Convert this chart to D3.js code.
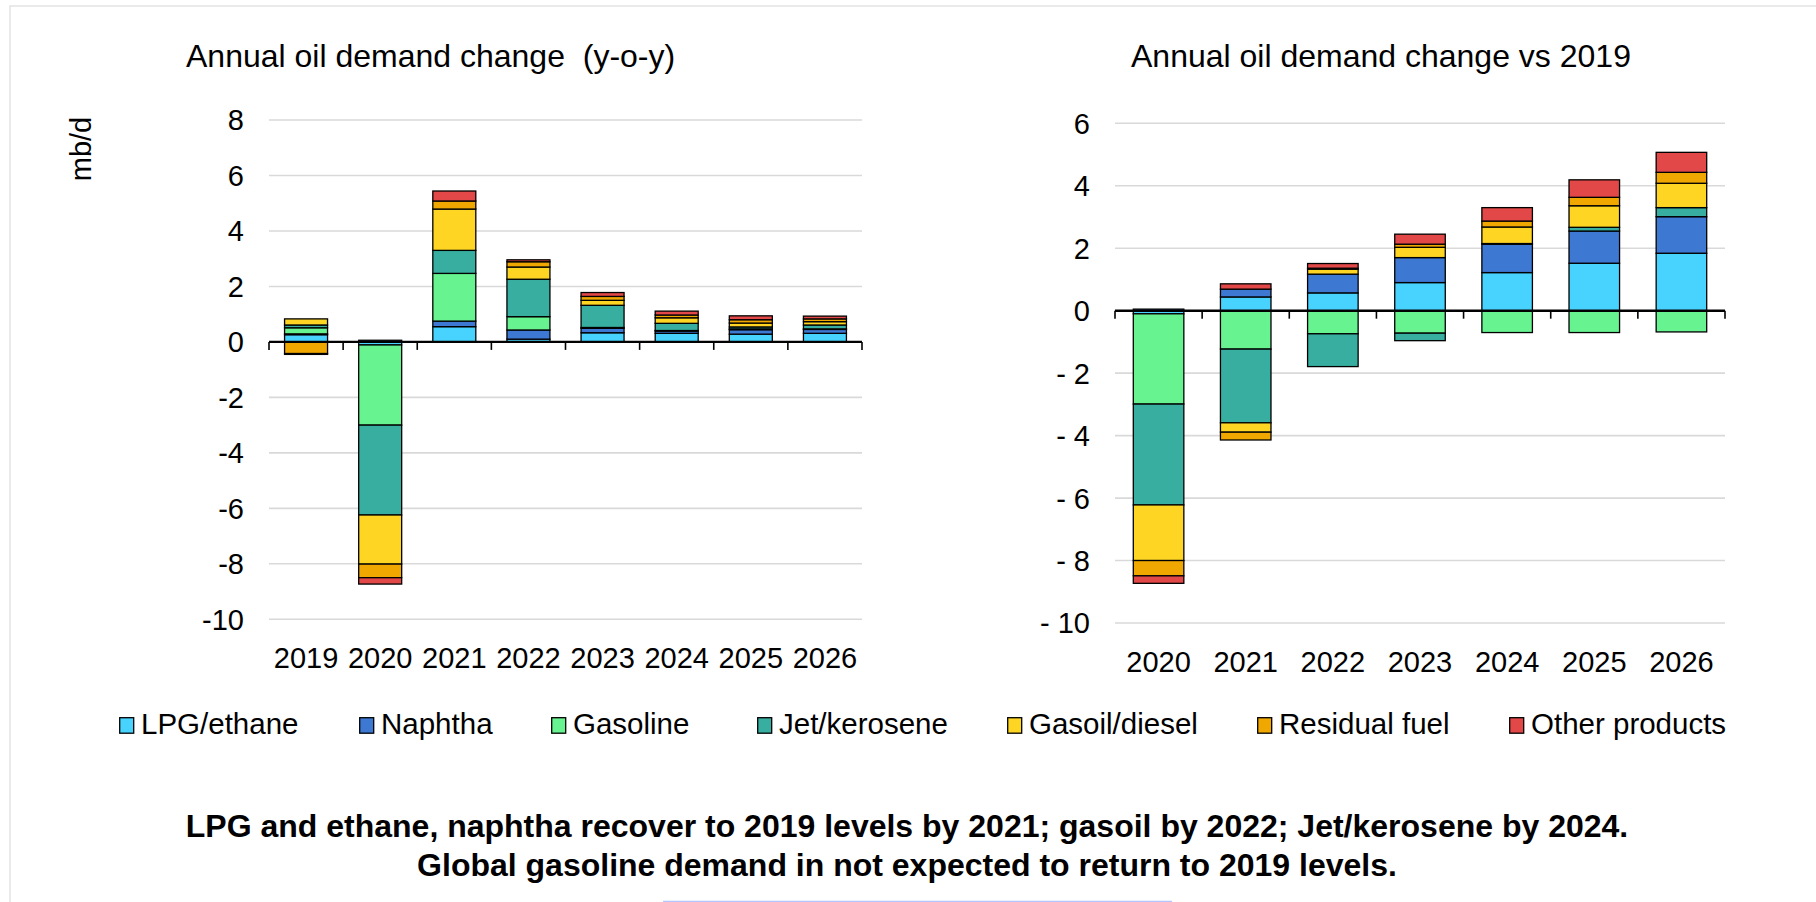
<!DOCTYPE html>
<html>
<head>
<meta charset="utf-8">
<script src="https://cdn.jsdelivr.net/npm/d3@7"></script>
<style>
  html, body { margin: 0; padding: 0; background: #fff; }
  svg { display: block; font-family: "Liberation Sans", Arial, sans-serif; }
</style>
</head>
<body>
<svg id="chart" width="1816" height="902"></svg>
<script>
// product groups, stacked bottom to top
var products = ["LPG/ethane", "Naphtha", "Gasoline", "Jet/kerosene", "Gasoil/diesel", "Residual fuel", "Other products"];
var productColors = ["#48d3ff", "#3d78d3", "#68f391", "#37ae9f", "#fed523", "#f0a800", "#e24848"];

// left panel: y-o-y change, mb/d
var yoyYears = ["2019", "2020", "2021", "2022", "2023", "2024", "2025", "2026"];
var yoyLpg      = [0.26, -0.11, 0.55, 0.10, 0.33, 0.31, 0.28, 0.31];
var yoyNaphtha  = [0.03,  0.06, 0.20, 0.33, 0.16, 0.08, 0.16, 0.14];
var yoyGasoline = [0.22, -2.89, 1.72, 0.48, 0.03, 0.02, 0.03, 0.02];
var yoyJet      = [0.10, -3.24, 0.83, 1.35, 0.80, 0.26, 0.07, 0.14];
var yoyGasoil   = [0.22, -1.77, 1.49, 0.44, 0.18, 0.20, 0.14, 0.12];
var yoyResidual = [-0.42, -0.49, 0.29, 0.19, 0.14, 0.10, 0.12, 0.10];
var yoyOther    = [-0.03, -0.23, 0.36, 0.07, 0.14, 0.14, 0.14, 0.10];
var yoyTicks = [8, 6, 4, 2, 0, -2, -4, -6, -8, -10];

// right panel: change vs 2019, mb/d
var vsYears = ["2020", "2021", "2022", "2023", "2024", "2025", "2026"];
var vsLpg      = [-0.10, 0.44, 0.57, 0.90, 1.22, 1.52, 1.84];
var vsNaphtha  = [0.05, 0.25, 0.60, 0.80, 0.91, 1.03, 1.17];
var vsGasoline = [-2.89, -1.23, -0.74, -0.72, -0.70, -0.70, -0.68];
var vsJet      = [-3.23, -2.36, -1.05, -0.24, 0.02, 0.12, 0.29];
var vsGasoil   = [-1.78, -0.30, 0.16, 0.33, 0.53, 0.69, 0.78];
var vsResidual = [-0.49, -0.25, 0.03, 0.10, 0.19, 0.27, 0.35];
var vsOther    = [-0.24, 0.17, 0.15, 0.32, 0.43, 0.56, 0.64];
var vsTicks = [6, 4, 2, 0, -2, -4, -6, -8, -10];

var svg = d3.select("#chart");

// light frame round the slide
svg.append("rect").attr("x", 10).attr("y", 6).attr("width", 1830).attr("height", 920)
    .attr("fill", "none").attr("stroke", "#e3e3e3").attr("stroke-width", 1.5);
svg.append("line").attr("x1", 663).attr("x2", 1172).attr("y1", 901.5).attr("y2", 901.5)
    .attr("stroke", "#b4c6ff").attr("stroke-width", 1.5);

function buildRows(years, series) {
    return years.map(function (yr, i) {
        var row = { year: yr };
        products.forEach(function (p, k) { row[p] = series[k][i]; });
        return row;
    });
}

function drawPanel(opt) {
    var g = svg.append("g");
    var x = d3.scaleBand().domain(opt.years).range(opt.xRange).padding(0);
    var y = d3.scaleLinear().domain(opt.yDomain).range(opt.yRange);
    var barW = x.bandwidth() * 0.58;

    // gridlines
    g.selectAll("line.grid").data(opt.ticks.filter(function (t) { return t !== 0; }))
        .enter().append("line").attr("class", "grid")
        .attr("x1", opt.xRange[0]).attr("x2", opt.xRange[1])
        .attr("y1", function (d) { return y(d); }).attr("y2", function (d) { return y(d); })
        .attr("stroke", "#d9d9d9").attr("stroke-width", 1.6);

    // y labels
    g.selectAll("text.ylab").data(opt.ticks).enter().append("text").attr("class", "ylab")
        .attr("x", opt.xRange[0] - 25).attr("y", function (d) { return y(d); })
        .attr("dy", "0.36em").attr("text-anchor", "end")
        .attr("font-size", 29).attr("fill", "#000")
        .text(opt.tickFormat);

    var rows = buildRows(opt.years, opt.series);
    var stack = d3.stack().keys(products).offset(d3.stackOffsetDiverging);
    var layers = stack(rows);

    g.selectAll("g.layer").data(layers).enter().append("g").attr("class", "layer")
        .attr("fill", function (d, i) { return productColors[i]; })
        .selectAll("rect").data(function (d) { return d; }).enter().append("rect")
        .attr("x", function (d) { return x(d.data.year) + (x.bandwidth() - barW) / 2; })
        .attr("width", barW)
        .attr("y", function (d) { return y(Math.max(d[0], d[1])); })
        .attr("height", function (d) { return Math.abs(y(d[0]) - y(d[1])); })
        .attr("stroke", "#000").attr("stroke-width", 1.3);

    // zero axis with ticks between categories
    var axis = g.append("g").attr("transform", "translate(0," + y(0) + ")");
    axis.append("line").attr("x1", opt.xRange[0]).attr("x2", opt.xRange[1])
        .attr("stroke", "#000").attr("stroke-width", 2.4);
    var edges = opt.years.map(function (d) { return x(d); }).concat([opt.xRange[1]]);
    axis.selectAll("line.tk").data(edges).enter().append("line").attr("class", "tk")
        .attr("x1", function (d) { return d; }).attr("x2", function (d) { return d; })
        .attr("y1", 0).attr("y2", 8).attr("stroke", "#000").attr("stroke-width", 1.6);

    // category labels
    g.selectAll("text.xlab").data(opt.years).enter().append("text").attr("class", "xlab")
        .attr("x", function (d) { return x(d) + x.bandwidth() / 2; })
        .attr("y", opt.labelY).attr("text-anchor", "middle")
        .attr("font-size", 29).attr("fill", "#000")
        .text(function (d) { return d; });

    g.append("text").attr("x", opt.titleX).attr("y", 67)
        .attr("font-size", 32).attr("fill", "#000").text(opt.title);
}

drawPanel({
    title: "Annual oil demand change\u00a0\u00a0(y-o-y)",
    titleX: 186,
    years: yoyYears,
    series: [yoyLpg, yoyNaphtha, yoyGasoline, yoyJet, yoyGasoil, yoyResidual, yoyOther],
    ticks: yoyTicks,
    tickFormat: function (d) { return String(d); },
    xRange: [269, 862],
    yDomain: [-10, 8],
    yRange: [619.3, 120],
    labelY: 668
});

drawPanel({
    title: "Annual oil demand change vs 2019",
    titleX: 1131,
    years: vsYears,
    series: [vsLpg, vsNaphtha, vsGasoline, vsJet, vsGasoil, vsResidual, vsOther],
    ticks: vsTicks,
    tickFormat: function (d) { return d < 0 ? "- " + Math.abs(d) : String(d); },
    xRange: [1115, 1725],
    yDomain: [-10, 6],
    yRange: [623, 123.3],
    labelY: 672
});

// unit label
svg.append("text").attr("transform", "translate(91,149) rotate(-90)")
    .attr("text-anchor", "middle").attr("font-size", 29).text("mb/d");

// legend
var legendX = [119, 359, 551, 757, 1007, 1257, 1509];
var legend = svg.selectAll("g.leg").data(products).enter().append("g").attr("class", "leg")
    .attr("transform", function (d, i) { return "translate(" + legendX[i] + ",717)"; });
legend.append("rect").attr("x", 0.7).attr("y", 0.7).attr("width", 14).attr("height", 15.5)
    .attr("fill", function (d, i) { return productColors[i]; })
    .attr("stroke", "#000").attr("stroke-width", 1.3);
legend.append("text").attr("x", 22).attr("y", 17).attr("font-size", 29.5).text(function (d) { return d; });

// takeaway note
var note = svg.append("text").attr("text-anchor", "middle").attr("font-weight", "bold")
    .attr("font-size", 32);
note.append("tspan").attr("x", 907).attr("y", 837)
    .text("LPG and ethane, naphtha recover to 2019 levels by 2021; gasoil by 2022; Jet/kerosene by 2024.");
note.append("tspan").attr("x", 907).attr("y", 876)
    .text("Global gasoline demand in not expected to return to 2019 levels.");
</script>
</body>
</html>
